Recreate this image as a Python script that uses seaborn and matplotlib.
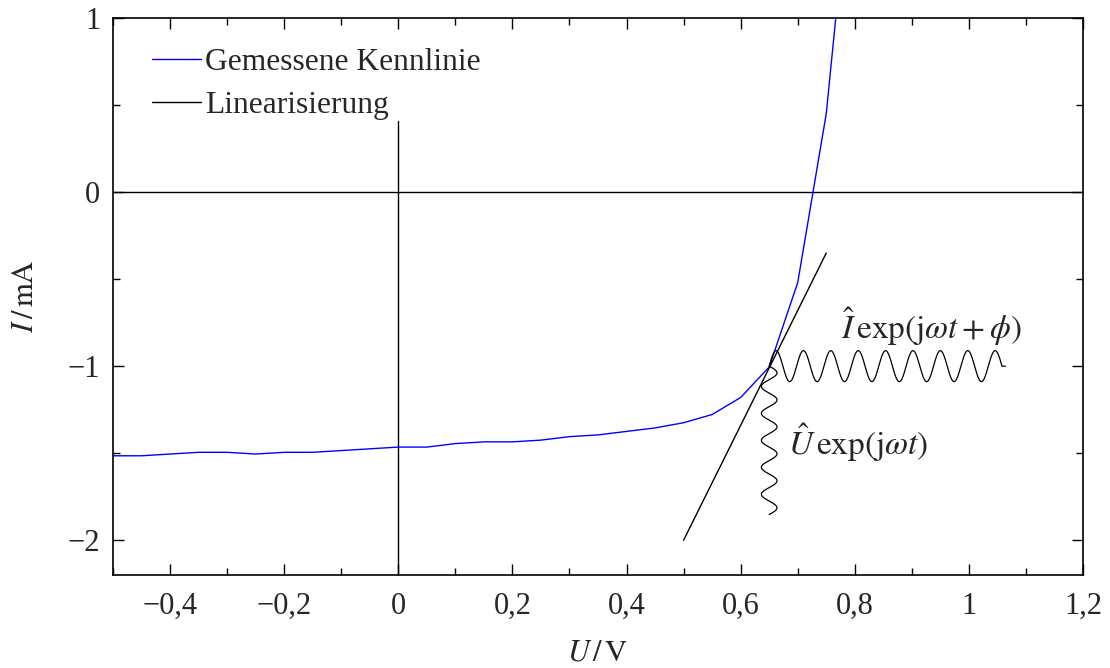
import numpy as np
import matplotlib.pyplot as plt
import seaborn as sns
from matplotlib.ticker import FuncFormatter, MultipleLocator

# measured diode characteristic (U in V, I in mA)
U_MEAS = [-0.5, -0.45, -0.4, -0.35, -0.3, -0.25, -0.2, -0.15, -0.1, -0.05, 0.0,
          0.05, 0.1, 0.15, 0.2, 0.25, 0.3, 0.35, 0.4, 0.45, 0.5, 0.55, 0.6,
          0.65, 0.7, 0.75, 0.8]
I_MEAS = [-1.515, -1.515, -1.505, -1.495, -1.495, -1.505, -1.495, -1.495,
          -1.485, -1.475, -1.465, -1.465, -1.445, -1.435, -1.435, -1.425,
          -1.405, -1.395, -1.375, -1.355, -1.325, -1.278, -1.18, -1.005,
          -0.52, 0.45, 2.1]

# tangent at the operating point
U_LIN = [0.5, 0.75]
I_LIN = [-2.0, -0.35]
U_OP, I_OP = 0.65, -1.0


def fmt(v, pos):
    # german decimal comma
    s = ('%g' % v).replace('.', ',')
    return s.replace('-', '\u2212')


sns.set_style('ticks')
plt.rcParams['font.family'] = 'serif'
plt.rcParams['font.serif'] = ['Liberation Serif', 'DejaVu Serif']
plt.rcParams['mathtext.fontset'] = 'stix'

fig = plt.figure(figsize=(11.1, 6.68), dpi=100)
ax = fig.add_axes([0.1018, 0.1392, 0.8739, 0.8338])

ax.axhline(0, color='black', lw=1.0)
ax.axvline(0, ymin=0, ymax=(0.41 + 2.2) / 3.2, color='black', lw=1.0)

sns.lineplot(x=U_MEAS, y=I_MEAS, ax=ax, color='blue', lw=1.0, sort=False,
             label='Gemessene Kennlinie')
sns.lineplot(x=U_LIN, y=I_LIN, ax=ax, color='black', lw=1.0,
             label='Linearisierung')

# wavy arrows (decoration only)
lam = 0.048
t = np.linspace(0, 8.5 * lam, 400)
hx = U_OP + t
hy = I_OP + 0.089 * np.sin(2 * np.pi * t / lam)
hx = np.append(hx, U_OP + 8.5 * lam + 0.006)
hy = np.append(hy, I_OP)
ax.plot(hx, hy, color='black', lw=0.9)

lam_v = 0.155
s = np.linspace(0, 5.5 * lam_v, 400)
vy = I_OP - s
vx = U_OP + 0.0137 * np.sin(2 * np.pi * s / lam_v)
ax.plot(vx, vy, color='black', lw=0.9)

ax.text(0.775, -0.776, r'$\hat{I}\,\exp(\mathrm{j}\omega t+\phi)$',
        fontsize=24, ha='left', va='center')
ax.text(0.683, -1.44, r'$\hat{U}\,\exp(\mathrm{j}\omega t)$',
        fontsize=24, ha='left', va='center')

ax.set_xlim(-0.5, 1.2)
ax.set_ylim(-2.2, 1.0)
ax.xaxis.set_major_locator(MultipleLocator(0.2))
ax.xaxis.set_minor_locator(MultipleLocator(0.1))
ax.yaxis.set_major_locator(MultipleLocator(1))
ax.yaxis.set_minor_locator(MultipleLocator(0.5))
ax.xaxis.set_major_formatter(FuncFormatter(fmt))
ax.yaxis.set_major_formatter(FuncFormatter(fmt))
ax.tick_params(which='both', direction='in', top=True, right=True,
               labelsize=22, width=1.0, color='black')
ax.tick_params(which='major', length=8)
ax.tick_params(axis='x', which='major', pad=12)
ax.tick_params(axis='y', which='major', pad=9)
ax.tick_params(which='minor', length=5)
for sp in ax.spines.values():
    sp.set_linewidth(1.2)
    sp.set_color('black')

ax.set_xlabel(r'$U\,/\,\mathrm{V}$', fontsize=22, labelpad=13)
ax.set_ylabel(r'$I\,/\,\mathrm{mA}$', fontsize=22, labelpad=20)

ax.legend(loc='upper left', frameon=False, fontsize=22.7, handlelength=1.54,
          handletextpad=0.15, labelspacing=0.45, borderaxespad=0.3,
          bbox_to_anchor=(0.0176, 0.986))

fig.savefig('out.png', dpi=100)
